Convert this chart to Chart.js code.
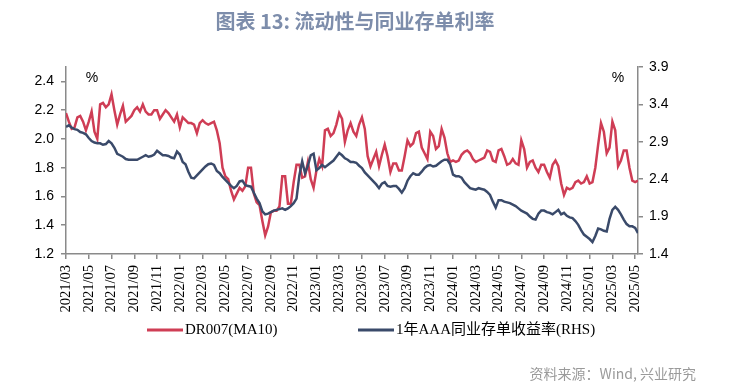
<!DOCTYPE html>
<html>
<head>
<meta charset="utf-8">
<script src="https://cdn.jsdelivr.net/npm/chart.js@4/dist/chart.umd.min.js"></script>
<style>
  html, body { margin: 0; padding: 0; background: #fff; }
  #wrap { width: 730px; height: 388px; position: relative; }
</style>
</head>
<body>
<div id="wrap"><canvas id="chart" width="730" height="388"></canvas></div>
<script>
// weekly-ish readings (4 per month), starting 2021/03
const pointsPerMonth = 4;

const dr007 = [
  2.18,2.12,2.07,2.08,2.15,2.16,2.12,2.06,
  2.12,2.19,2.05,2.00,2.24,2.25,2.22,2.24,
  2.31,2.20,2.10,2.17,2.23,2.12,2.14,2.16,
  2.20,2.22,2.19,2.24,2.19,2.17,2.17,2.20,
  2.20,2.14,2.17,2.20,2.18,2.15,2.12,2.17,
  2.08,2.15,2.13,2.11,2.11,2.10,2.04,2.11,
  2.13,2.11,2.10,2.11,2.12,2.06,1.97,1.80,
  1.74,1.72,1.64,1.58,1.62,1.66,1.64,1.67,
  1.80,1.80,1.62,1.56,1.54,1.43,1.33,1.39,
  1.49,1.50,1.50,1.53,1.74,1.74,1.55,1.55,
  1.70,1.82,1.82,1.73,1.74,1.84,1.72,1.66,
  1.78,1.86,1.81,2.06,2.07,2.02,2.04,2.10,
  2.18,2.14,1.98,2.06,2.11,2.05,2.02,2.10,
  2.15,2.07,1.88,1.81,1.86,1.91,1.81,1.89,
  1.96,1.88,1.77,1.83,1.83,1.78,1.78,1.88,
  1.99,1.95,1.97,2.04,2.05,1.94,1.90,1.86,
  2.05,2.02,1.93,1.95,2.07,2.01,1.90,1.84,
  1.85,1.84,1.85,1.89,1.91,1.92,1.90,1.86,
  1.84,1.85,1.86,1.87,1.92,1.91,1.85,1.84,
  1.92,1.93,1.88,1.82,1.83,1.86,1.83,1.82,
  1.99,1.93,1.80,1.84,1.85,1.80,1.77,1.82,
  1.82,1.77,1.73,1.82,1.85,1.81,1.69,1.61,
  1.66,1.65,1.66,1.70,1.71,1.69,1.70,1.74,
  1.69,1.70,1.80,1.96,2.11,2.05,1.90,1.94,
  2.12,2.06,1.81,1.85,1.92,1.92,1.80,1.71,
  1.70,1.71
];

const ncdAAA1Y = [
  3.10,3.12,3.09,3.07,3.06,3.03,3.02,3.00,
  2.95,2.91,2.89,2.88,2.88,2.86,2.87,2.91,
  2.88,2.82,2.74,2.72,2.70,2.67,2.66,2.66,
  2.66,2.66,2.68,2.70,2.72,2.70,2.71,2.73,
  2.78,2.75,2.72,2.72,2.71,2.69,2.68,2.77,
  2.73,2.63,2.60,2.50,2.42,2.41,2.45,2.49,
  2.53,2.57,2.60,2.61,2.59,2.51,2.48,2.43,
  2.39,2.35,2.31,2.28,2.31,2.37,2.38,2.32,
  2.31,2.30,2.22,2.14,2.08,1.97,1.93,1.94,
  1.96,1.98,1.99,2.00,2.01,1.99,2.01,2.04,
  2.08,2.14,2.45,2.64,2.48,2.58,2.72,2.74,
  2.52,2.55,2.59,2.56,2.59,2.62,2.65,2.70,
  2.75,2.72,2.68,2.66,2.63,2.63,2.62,2.58,
  2.55,2.49,2.45,2.41,2.37,2.33,2.28,2.34,
  2.36,2.31,2.30,2.31,2.31,2.27,2.22,2.28,
  2.38,2.44,2.48,2.46,2.46,2.50,2.55,2.58,
  2.59,2.57,2.58,2.61,2.64,2.66,2.66,2.60,
  2.46,2.44,2.44,2.42,2.36,2.32,2.28,2.27,
  2.26,2.28,2.27,2.26,2.23,2.19,2.10,2.02,
  2.12,2.12,2.10,2.09,2.08,2.06,2.04,2.01,
  1.98,1.96,1.94,1.90,1.87,1.86,1.94,1.98,
  1.98,1.96,1.95,1.93,1.96,1.99,1.93,1.95,
  1.91,1.89,1.88,1.84,1.79,1.72,1.66,1.63,
  1.60,1.56,1.64,1.74,1.73,1.71,1.70,1.87,
  1.99,2.03,1.99,1.93,1.86,1.80,1.77,1.77,
  1.75,1.68
];

const xTickLabels = [
  "2021/03","2021/05","2021/07","2021/09","2021/11",
  "2022/01","2022/03","2022/05","2022/07","2022/09","2022/11",
  "2023/01","2023/03","2023/05","2023/07","2023/09","2023/11",
  "2024/01","2024/03","2024/05","2024/07","2024/09","2024/11",
  "2025/01","2025/03","2025/05"
];
const leftTicks = [1.2, 1.4, 1.6, 1.8, 2.0, 2.2, 2.4];
const rightTicks = [1.4, 1.9, 2.4, 2.9, 3.4, 3.9];

const seriesNames = ["DR007(MA10)", "1年AAA同业存单收益率(RHS)"];
const titleText = "图表 13: 流动性与同业存单利率";
const sourceText = "资料来源：Wind, 兴业研究";

const RED = "#cf3d55";
const NAVY = "#3a4a6a";
const AXIS = "#8a8a8a";

const toPoints = arr => arr.map((v, i) => ({ x: i / pointsPerMonth, y: v }));

const extras = {
  id: "extras",
  afterDraw(chart) {
    const ctx = chart.ctx;
    ctx.save();
    // title
    ctx.fillStyle = "#7d8dab";
    ctx.font = "bold 20px 'Noto Sans CJK SC'";
    ctx.textAlign = "center";
    ctx.textBaseline = "middle";
    ctx.fillText(titleText, 355, 21);

    // unit marks
    ctx.fillStyle = "#000";
    ctx.font = "14px 'Liberation Sans'";
    ctx.fillText("%", 92, 78);
    ctx.fillText("%", 618, 78);

    // legend
    const items = chart.data.datasets;
    const legendX = [147, 358];
    ctx.font = "15px 'Liberation Serif', 'Noto Sans CJK SC'";
    ctx.textAlign = "left";
    items.forEach((ds, i) => {
      const x0 = legendX[i];
      ctx.strokeStyle = ds.borderColor;
      ctx.lineWidth = 3;
      ctx.beginPath();
      ctx.moveTo(x0, 330);
      ctx.lineTo(x0 + 36, 330);
      ctx.stroke();
      ctx.fillStyle = "#000";
      ctx.fillText(ds.label, x0 + 38, 330);
    });

    // source
    ctx.fillStyle = "#9a9a9a";
    ctx.font = "14px 'Noto Sans CJK SC'";
    ctx.textAlign = "right";
    ctx.fillText(sourceText, 696, 374);
    ctx.restore();
  }
};

const axisGrid = { display: true, drawOnChartArea: false, drawTicks: true, tickLength: 5, color: AXIS, lineWidth: 1.5 };
const axisBorder = { display: true, color: AXIS, width: 1.5 };

new Chart(document.getElementById("chart"), {
  type: "line",
  data: {
    datasets: [
      {
        label: seriesNames[0],
        data: toPoints(dr007),
        yAxisID: "yL",
        borderColor: RED,
        borderWidth: 2.5,
        pointRadius: 0,
        tension: 0,
        order: 2
      },
      {
        label: seriesNames[1],
        data: toPoints(ncdAAA1Y),
        yAxisID: "yR",
        borderColor: NAVY,
        borderWidth: 2.5,
        pointRadius: 0,
        tension: 0,
        order: 1
      }
    ]
  },
  options: {
    responsive: false,
    animation: false,
    layout: { padding: { top: 67, left: 26, right: 52, bottom: 72 } },
    plugins: {
      legend: { display: false },
      title: { display: false },
      tooltip: { enabled: false }
    },
    scales: {
      x: {
        type: "linear",
        min: 0,
        max: 50.25,
        afterBuildTicks: s => { s.ticks = xTickLabels.map((_, i) => ({ value: i * 2 })); },
        afterFit: s => { s.height = 62; },
        ticks: {
          minRotation: 90,
          maxRotation: 90,
          autoSkip: false,
          padding: 6,
          color: "#000",
          font: { family: "'Liberation Serif'", size: 14.5 },
          callback: (v) => xTickLabels[Math.round(v / 2)]
        },
        grid: axisGrid,
        border: axisBorder
      },
      yL: {
        position: "left",
        min: 1.2,
        max: 2.5,
        afterBuildTicks: s => { s.ticks = leftTicks.map(v => ({ value: v })); },
        afterFit: s => { s.width = 40; },
        ticks: {
          padding: 7,
          color: "#000",
          font: { family: "'Liberation Sans'", size: 14 },
          callback: v => v.toFixed(1)
        },
        grid: axisGrid,
        border: axisBorder
      },
      yR: {
        position: "right",
        min: 1.4,
        max: 3.9,
        afterBuildTicks: s => { s.ticks = rightTicks.map(v => ({ value: v })); },
        afterFit: s => { s.width = 40; },
        ticks: {
          padding: 6,
          color: "#000",
          font: { family: "'Liberation Sans'", size: 14 },
          callback: v => v.toFixed(1)
        },
        grid: axisGrid,
        border: axisBorder
      }
    }
  },
  plugins: [extras]
});
</script>
</body>
</html>
